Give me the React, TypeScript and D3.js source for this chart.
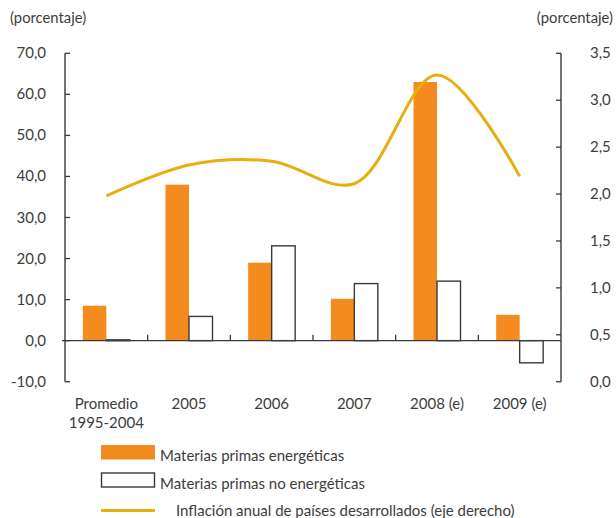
import React from "react";
import * as d3 from "d3";

const categories = ["Promedio\n1995-2004", "2005", "2006", "2007", "2008 (e)", "2009 (e)"];
const energeticas = [8.5, 38.0, 19.0, 10.2, 63.0, 6.3];
const noEnergeticas = [0.2, 5.9, 23.1, 13.9, 14.5, -5.4];
const inflacion = [1.98, 2.31, 2.35, 2.11, 3.27, 2.19];
const leftTicks = [-10, 0, 10, 20, 30, 40, 50, 60, 70];
const rightTicks = [0, 0.5, 1, 1.5, 2, 2.5, 3, 3.5];
const legendLabels = [
  "Materias primas energéticas",
  "Materias primas no energéticas",
  "Inflación anual de países desarrollados (eje derecho)",
];

const ORANGE = "#F48B1F";
const GOLD = "#E8AE10";
const AXIS = "#3a3a3a";
const TEXT = "#3d3d3d";
const FONT = "Lato, 'Open Sans', sans-serif";

export default function App() {
  const W = 616, H = 518;
  const x0 = 65, x1 = 561;
  const yTop = 53.3, yBot = 381.7;
  const x = d3.scaleBand<string>().domain(categories).range([x0, x1]);
  const yL = d3.scaleLinear().domain([-10, 70]).range([yBot, yTop]);
  const yR = d3.scaleLinear().domain([0, 3.5]).range([yBot, yTop]);
  const barW = 23.5;
  const fmt = (v: number, d: number) => v.toFixed(d).replace(".", ",");
  const cx = (c: string) => (x(c) as number) + x.bandwidth() / 2;
  const line = d3
    .line<number>()
    .x((_, i) => cx(categories[i]))
    .y((v) => yR(v))
    .curve(d3.curveCatmullRom.alpha(0.5));

  return (
    <svg width={W} height={H} style={{ position: "absolute", left: 0, top: 0 }} fontFamily={FONT}>
      <rect width={W} height={H} fill="white" />
      <text x={10} y={23} fontSize={14.8} fill={TEXT}>(porcentaje)</text>
      <text x={613} y={23} fontSize={14.8} fill={TEXT} textAnchor="end">(porcentaje)</text>

      {/* bars */}
      {categories.map((c, i) => {
        const m = cx(c);
        const e = energeticas[i];
        const n = noEnergeticas[i];
        return (
          <g key={c}>
            <rect x={m - barW} y={Math.min(yL(e), yL(0))} width={barW} height={Math.abs(yL(e) - yL(0))} fill={ORANGE} />
            <rect x={m} y={Math.min(yL(n), yL(0))} width={barW} height={Math.max(Math.abs(yL(n) - yL(0)), 0.5)} fill="white" stroke={AXIS} strokeWidth={1.4} />
          </g>
        );
      })}

      {/* zero line */}
      <line x1={x0 - 3} x2={x1} y1={yL(0)} y2={yL(0)} stroke={AXIS} strokeWidth={1.4} />
      {categories.slice(1).map((c) => (
        <line key={c} x1={x(c) as number} x2={x(c) as number} y1={yL(0) - 6} y2={yL(0)} stroke={AXIS} strokeWidth={1.3} />
      ))}

      {/* left axis */}
      <line x1={x0} x2={x0} y1={yTop} y2={yBot} stroke={AXIS} strokeWidth={1.4} />
      {leftTicks.map((t) => (
        <g key={t}>
          <line x1={x0} x2={x0 + 5} y1={yL(t)} y2={yL(t)} stroke={AXIS} strokeWidth={1.3} />
          <text x={46} y={yL(t) + 5} fontSize={15} fill={TEXT} textAnchor="end">{fmt(t, 1)}</text>
        </g>
      ))}

      {/* right axis */}
      <line x1={x1} x2={x1} y1={yTop} y2={yBot} stroke={AXIS} strokeWidth={1.4} />
      {rightTicks.map((t) => (
        <g key={t}>
          <line x1={x1 - 5} x2={x1} y1={yR(t)} y2={yR(t)} stroke={AXIS} strokeWidth={1.3} />
          <text x={590} y={yR(t) + 5} fontSize={15} fill={TEXT}>{fmt(t, 1)}</text>
        </g>
      ))}

      {/* inflation line */}
      <path d={line(inflacion) || ""} fill="none" stroke={GOLD} strokeWidth={3} />

      {/* category labels */}
      {categories.map((c) => (
        <text key={c} x={cx(c)} y={409} fontSize={15} fill={TEXT} textAnchor="middle">
          {c.split("\n").map((s, j) => (
            <tspan key={j} x={cx(c)} dy={j === 0 ? 0 : 19}>{s}</tspan>
          ))}
        </text>
      ))}

      {/* legend */}
      <rect x={101} y={445} width={54} height={14.5} fill={ORANGE} />
      <text x={160} y={461} fontSize={15} fill={TEXT}>{legendLabels[0]}</text>
      <rect x={101.5} y={473} width={53} height={14} fill="white" stroke={AXIS} strokeWidth={1.4} />
      <text x={160} y={489} fontSize={15} fill={TEXT}>{legendLabels[1]}</text>
      <line x1={101} x2={155} y1={510.5} y2={510.5} stroke={GOLD} strokeWidth={3} />
      <text x={176} y={516} fontSize={15} fill={TEXT}>{legendLabels[2]}</text>
    </svg>
  );
}
